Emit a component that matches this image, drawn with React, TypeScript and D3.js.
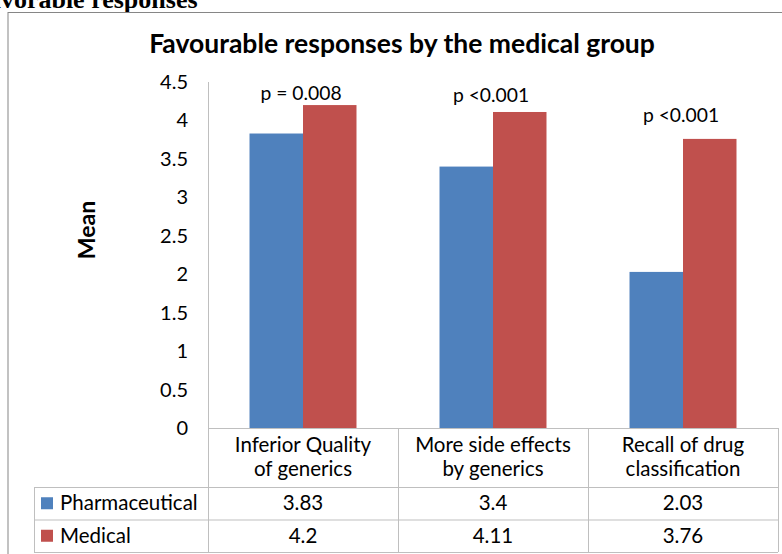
import React from 'react';
import * as d3 from 'd3';

// chart data
const categories = [['Inferior Quality', 'of generics'], ['More side effects', 'by generics'], ['Recall of drug', 'classification']];
const seriesNames = ['Pharmaceutical', 'Medical'];
const pharmaValues = [3.83, 3.4, 2.03];
const medicalValues = [4.2, 4.11, 3.76];
const seriesColors = ['#4F81BD', '#C0504D'];
const pLabels = ['p = 0.008', 'p <0.001', 'p <0.001'];
const pLabelLevels = [4.27, 4.24, 3.98];
const yTicks = [0, 0.5, 1, 1.5, 2, 2.5, 3, 3.5, 4, 4.5];

const W = 782;
const H = 554;
const FONT = 'Lato, "Open Sans", sans-serif';
const lineColor = '#BFBFBF';

const App = () => {
	const series = [pharmaValues, medicalValues];
	const catIdx = categories.map((c, i) => i);

	// 1. scales
	const x = d3.scaleBand<number>()
		.domain(catIdx)
		.range([208, 778])
		.padding(0);

	const xInner = d3.scaleBand<number>()
		.domain([0, 1])
		.range([0, x.bandwidth()])
		.paddingInner(0)
		.paddingOuter(0.776);

	const y = d3.scaleLinear()
		.domain([0, 4.5])
		.range([428, 82]);

	const tableTop = y(0);
	const headerBottom = 487;
	const rowH = 32.5;
	const legendLeft = 34;
	const tableRight = x.range()[1];

	return (
		<svg width={W} height={H} style={{position: 'absolute', left: 0, top: 0, background: '#fff'}}>
			{/* clipped heading from the page above */}
			<text x={-28} y={8} fontFamily='"Liberation Serif", "Times New Roman", serif' fontWeight="bold" fontSize={26}>
				Favorable responses
			</text>

			{/* chart border */}
			<rect x={8} y={12.5} width={W + 10} height={H + 10} fill="none" stroke="#868686" strokeWidth={1} />

			{/* title */}
			<text x={402} y={53} textAnchor="middle" fontFamily={FONT} fontWeight="bold" fontSize={26.5}>
				Favourable responses by the medical group
			</text>

			{/* y axis label */}
			<text transform="translate(95, 230) rotate(-90)" textAnchor="middle" fontFamily={FONT} fontWeight="bold" fontSize={23}>
				Mean
			</text>

			{/* y ticks */}
			{yTicks.map(t => (
				<text key={t} x={188} y={y(t)} dy="0.35em" textAnchor="end" fontFamily={FONT} fontSize={20}>
					{t}
				</text>
			))}

			{/* bars */}
			{series.map((vals, s) => vals.map((v, i) => (
				<rect key={`${s}-${i}`}
					x={x(i)! + xInner(s)!}
					y={y(v)}
					width={xInner.bandwidth()}
					height={y(0) - y(v)}
					fill={seriesColors[s]} />
			)))}

			{/* p value annotations */}
			{pLabels.map((p, i) => (
				<text key={i} x={x(i)! + x.bandwidth() / 2 - 2} y={y(pLabelLevels[i])} textAnchor="middle" fontFamily={FONT} fontSize={19.3}>
					{p}
				</text>
			))}

			{/* axis line */}
			<line x1={208.5} x2={208.5} y1={y(4.5)} y2={tableTop} stroke={lineColor} />

			{/* data table */}
			<g stroke={lineColor} strokeWidth={1} fill="none">
				<line x1={208} x2={tableRight} y1={tableTop + 0.5} y2={tableTop + 0.5} />
				<line x1={legendLeft} x2={tableRight} y1={headerBottom + 0.5} y2={headerBottom + 0.5} />
				<line x1={legendLeft} x2={tableRight} y1={headerBottom + rowH + 0.5} y2={headerBottom + rowH + 0.5} />
				<line x1={legendLeft} x2={tableRight} y1={headerBottom + 2 * rowH + 0.5} y2={headerBottom + 2 * rowH + 0.5} />
				<line x1={legendLeft + 0.5} x2={legendLeft + 0.5} y1={headerBottom} y2={headerBottom + 2 * rowH} />
				{catIdx.concat([3]).map(i => {
					const xx = i < 3 ? x(i)! : tableRight;
					return <line key={i} x1={Math.round(xx) + 0.5} x2={Math.round(xx) + 0.5} y1={tableTop} y2={headerBottom + 2 * rowH} />;
				})}
			</g>

			{/* category headers */}
			{categories.map((c, i) => (
				<text key={i} textAnchor="middle" fontFamily={FONT} fontSize={20.5}>
					{c.map((line, j) => (
						<tspan key={j} x={x(i)! + x.bandwidth() / 2} y={452 + j * 24}>{line}</tspan>
					))}
				</text>
			))}

			{/* legend rows + values */}
			{series.map((vals, s) => {
				const cy = headerBottom + rowH * s + rowH / 2;
				return (
					<g key={s} fontFamily={FONT} fontSize={20.5}>
						<rect x={41} y={cy - 6} width={12} height={12} fill={seriesColors[s]} />
						<text x={60} y={cy} dy="0.35em">{seriesNames[s]}</text>
						{vals.map((v, i) => (
							<text key={i} x={x(i)! + x.bandwidth() / 2} y={cy} dy="0.35em" textAnchor="middle">{v}</text>
						))}
					</g>
				);
			})}
		</svg>
	);
};

export default App;
